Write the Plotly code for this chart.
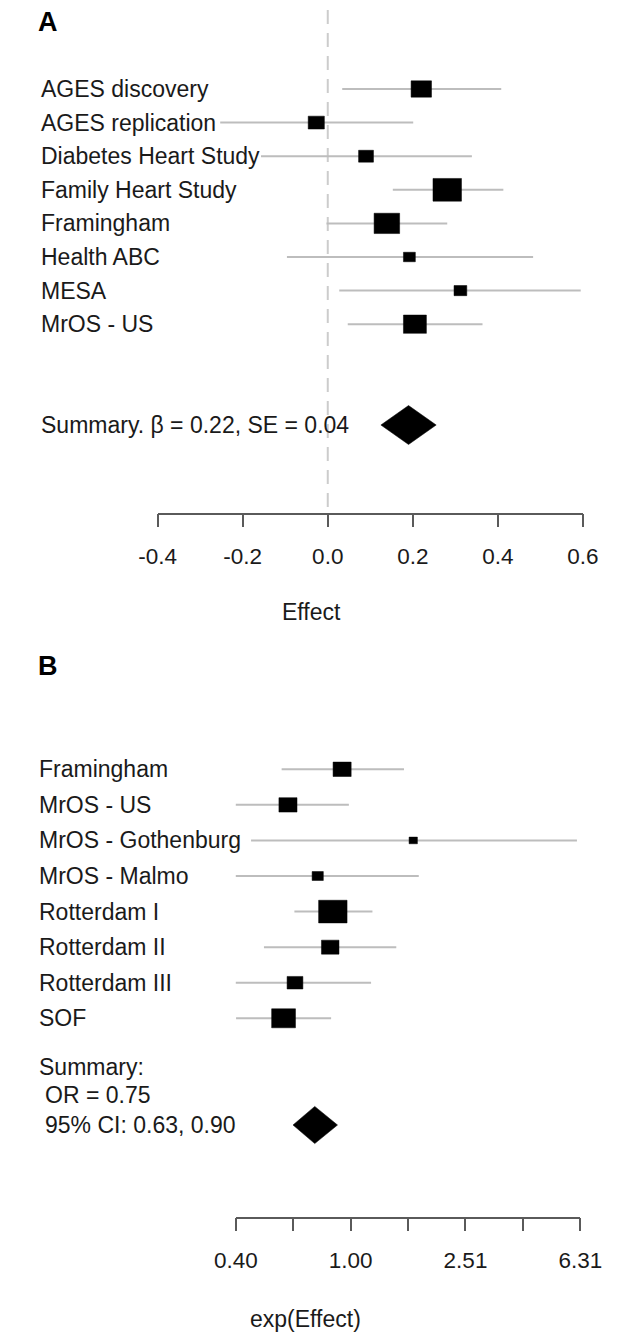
import math
import plotly.graph_objects as go

# ---------------- data ----------------
studies_a = ["AGES discovery", "AGES replication", "Diabetes Heart Study", "Family Heart Study",
             "Framingham", "Health ABC", "MESA", "MrOS - US"]
effect_a = [0.220, -0.027, 0.090, 0.281, 0.139, 0.192, 0.312, 0.205]
lower_a = [0.034, -0.253, -0.157, 0.153, -0.003, -0.096, 0.027, 0.047]
upper_a = [0.408, 0.201, 0.339, 0.413, 0.281, 0.483, 0.595, 0.364]
weight_a = [0.048, 0.038, 0.035, 0.067, 0.060, 0.028, 0.030, 0.054]
summary_a = {"est": 0.19, "lo": 0.125, "hi": 0.255}
summary_text_a = "Summary. β = 0.22, SE = 0.04"
ticks_a = [-0.4, -0.2, 0.0, 0.2, 0.4, 0.6]
ticklabels_a = ["-0.4", "-0.2", "0.0", "0.2", "0.4", "0.6"]

studies_b = ["Framingham", "MrOS - US", "MrOS - Gothenburg", "MrOS - Malmo",
             "Rotterdam I", "Rotterdam II", "Rotterdam III", "SOF"]
or_b = [0.934, 0.605, 1.652, 0.768, 0.867, 0.849, 0.640, 0.584]
lower_b = [0.575, 0.365, 0.450, 0.346, 0.637, 0.499, 0.349, 0.399]
upper_b = [1.534, 0.986, 6.14, 1.727, 1.191, 1.442, 1.178, 0.855]
weight_b = [0.063, 0.063, 0.029, 0.039, 0.099, 0.061, 0.055, 0.083]  # log10 width
summary_b = {"est": 0.75, "lo": 0.63, "hi": 0.90}
summary_text_b = ["Summary:", "OR = 0.75", "95% CI: 0.63, 0.90"]
ticks_b_log = [-0.4, -0.2, 0.0, 0.2, 0.4, 0.6, 0.8]
ticklabels_b = ["0.40", "", "1.00", "", "2.51", "", "6.31"]

null_a = 0.0
null_b = 1.0

# ---------------- layout geometry (pixels) ----------------
W, H = 624, 1337
FONT = "Liberation Sans, Arial, Helvetica, sans-serif"
FS = 23
FS_TICK = 22.5
CI_COLOR = "#bdbdbd"
REF_COLOR = "#cccccc"
AX_COLOR = "#5a5a5a"
TXT = "#1a1a1a"
BOX_RATIO = 1.35
DASH = "14px,9px"

# panel A
a_x0px, a_x1px = 146.0, 603.4
a_axis_px = 512.7
a_row1_px, a_rowstep = 89.0, 33.6
# panel B
b_x0px, b_x1px = 230.0, 600.7
b_top_px = 640.0
b_axis_px = 1216.5
b_row1_px, b_rowstep = 769.3, 35.57

rows = list(range(1, 9))
summary_row = 11


def px_to_row(px, row1, step):
    return (px - row1) / step + 1


a_range_y = [px_to_row(a_axis_px, a_row1_px, a_rowstep), px_to_row(0, a_row1_px, a_rowstep)]
b_range_y = [px_to_row(b_axis_px, b_row1_px, b_rowstep), px_to_row(b_top_px, b_row1_px, b_rowstep)]

a_px_per_x = (a_x1px - a_x0px) / (ticks_a[-1] - ticks_a[0])
b_px_per_x = (b_x1px - b_x0px) / (ticks_b_log[-1] - ticks_b_log[0])

fig = go.Figure()

# ----- panel A -----
ci_x, ci_y = [], []
for r, lo, hi in zip(rows, lower_a, upper_a):
    ci_x += [lo, hi, None]
    ci_y += [r, r, None]
fig.add_trace(go.Scatter(x=ci_x, y=ci_y, mode="lines", line=dict(color=CI_COLOR, width=2),
                         xaxis="x", yaxis="y", hoverinfo="skip", cliponaxis=False))
bx, by = [], []
for r, e, w in zip(rows, effect_a, weight_a):
    hh = (w * a_px_per_x / BOX_RATIO) / a_rowstep / 2
    bx += [e - w / 2, e + w / 2, e + w / 2, e - w / 2, e - w / 2, None]
    by += [r - hh, r - hh, r + hh, r + hh, r - hh, None]
fig.add_trace(go.Scatter(x=bx, y=by, mode="lines", fill="toself", fillcolor="black",
                         line=dict(color="black", width=0.5), xaxis="x", yaxis="y",
                         hoverinfo="skip", cliponaxis=False))
dh_a = 19.5 / a_rowstep
fig.add_trace(go.Scatter(
    x=[summary_a["lo"], summary_a["est"], summary_a["hi"], summary_a["est"], summary_a["lo"]],
    y=[summary_row, summary_row - dh_a, summary_row, summary_row + dh_a, summary_row],
    mode="lines", fill="toself", fillcolor="black", line=dict(color="black", width=0.5),
    xaxis="x", yaxis="y", hoverinfo="skip", cliponaxis=False))

# ----- panel B -----
ci_x, ci_y = [], []
for r, lo, hi in zip(rows, lower_b, upper_b):
    ci_x += [lo, hi, None]
    ci_y += [r, r, None]
fig.add_trace(go.Scatter(x=ci_x, y=ci_y, mode="lines", line=dict(color=CI_COLOR, width=2),
                         xaxis="x2", yaxis="y2", hoverinfo="skip", cliponaxis=False))
bx, by = [], []
for r, e, w in zip(rows, or_b, weight_b):
    hh = (w * b_px_per_x / BOX_RATIO) / b_rowstep / 2
    f = 10 ** (w / 2)
    bx += [e / f, e * f, e * f, e / f, e / f, None]
    by += [r - hh, r - hh, r + hh, r + hh, r - hh, None]
fig.add_trace(go.Scatter(x=bx, y=by, mode="lines", fill="toself", fillcolor="black",
                         line=dict(color="black", width=0.5), xaxis="x2", yaxis="y2",
                         hoverinfo="skip", cliponaxis=False))
dh_b = 18.6 / b_rowstep
fig.add_trace(go.Scatter(
    x=[summary_b["lo"], summary_b["est"], summary_b["hi"], summary_b["est"], summary_b["lo"]],
    y=[summary_row, summary_row - dh_b, summary_row, summary_row + dh_b, summary_row],
    mode="lines", fill="toself", fillcolor="black", line=dict(color="black", width=0.5),
    xaxis="x2", yaxis="y2", hoverinfo="skip", cliponaxis=False))

# reference dashed lines
fig.add_shape(type="line", xref="x", yref="y", x0=null_a, x1=null_a,
              y0=px_to_row(10, a_row1_px, a_rowstep), y1=a_range_y[0],
              line=dict(color=REF_COLOR, width=2, dash=DASH), layer="below")
fig.add_shape(type="line", xref="x2", yref="y2", x0=math.log10(null_b), x1=math.log10(null_b),
              y0=px_to_row(686.7, b_row1_px, b_rowstep), y1=b_range_y[0],
              line=dict(color=REF_COLOR, width=2, dash=DASH), layer="below")

ann = []
for r, s in zip(rows, studies_a):
    ann.append(dict(x=18.5 / W, xref="paper", y=r, yref="y", text=s, showarrow=False,
                    xanchor="left", yanchor="middle", font=dict(size=FS, color=TXT)))
ann.append(dict(x=18.5 / W, xref="paper", y=summary_row, yref="y", text=summary_text_a,
                showarrow=False, xanchor="left", yanchor="middle", font=dict(size=FS, color=TXT)))
for r, s in zip(rows, studies_b):
    ann.append(dict(x=16 / W, xref="paper", y=r, yref="y2", text=s, showarrow=False,
                    xanchor="left", yanchor="middle", font=dict(size=FS, color=TXT)))
sum_b_px = [1066.7, 1094.5, 1125.0]
sum_b_x = [16, 22.5, 22.5]
for t, py, px in zip(summary_text_b, sum_b_px, sum_b_x):
    ann.append(dict(x=px / W, xref="paper", y=px_to_row(py, b_row1_px, b_rowstep), yref="y2",
                    text=t, showarrow=False, xanchor="left", yanchor="middle",
                    font=dict(size=FS, color=TXT)))
# panel letters
ann.append(dict(x=15.5 / W, xref="paper", y=1 - 22 / H, yref="paper", text="<b>A</b>",
                showarrow=False, xanchor="left", yanchor="middle", font=dict(size=27, color="black")))
ann.append(dict(x=15.5 / W, xref="paper", y=1 - 666 / H, yref="paper", text="<b>B</b>",
                showarrow=False, xanchor="left", yanchor="middle", font=dict(size=27, color="black")))
# axis titles
ann.append(dict(x=311 / W, xref="paper", y=1 - 612 / H, yref="paper", text="Effect",
                showarrow=False, xanchor="center", yanchor="middle", font=dict(size=FS, color=TXT)))
ann.append(dict(x=305 / W, xref="paper", y=1 - 1319 / H, yref="paper", text="exp(Effect)",
                showarrow=False, xanchor="center", yanchor="middle", font=dict(size=FS, color=TXT)))

axis_common = dict(showgrid=False, zeroline=False, showline=True, linecolor=AX_COLOR, linewidth=1.5,
                   ticks="outside", ticklen=13, tickwidth=1.5, tickcolor=AX_COLOR,
                   tickfont=dict(size=FS_TICK, color=TXT), ticklabelstandoff=10, fixedrange=True)

fig.update_layout(
    width=W, height=H, margin=dict(l=0, r=0, t=0, b=0),
    paper_bgcolor="white", plot_bgcolor="white", showlegend=False,
    font=dict(family=FONT, size=FS, color=TXT),
    xaxis=dict(domain=[a_x0px / W, a_x1px / W], range=[ticks_a[0], ticks_a[-1]], anchor="y",
               tickvals=ticks_a, ticktext=ticklabels_a, **axis_common),
    yaxis=dict(domain=[1 - a_axis_px / H, 1], range=a_range_y, visible=False, fixedrange=True),
    xaxis2=dict(domain=[b_x0px / W, b_x1px / W], type="log", range=[ticks_b_log[0], ticks_b_log[-1]],
                anchor="y2", tickvals=[10 ** v for v in ticks_b_log], ticktext=ticklabels_b,
                **axis_common),
    yaxis2=dict(domain=[1 - b_axis_px / H, 1 - b_top_px / H], range=b_range_y, visible=False,
                fixedrange=True),
    annotations=ann,
)

fig.write_html("out.html", config={"displayModeBar": False},
               post_script="document.body.style.margin='0';document.body.style.overflow='hidden';")
